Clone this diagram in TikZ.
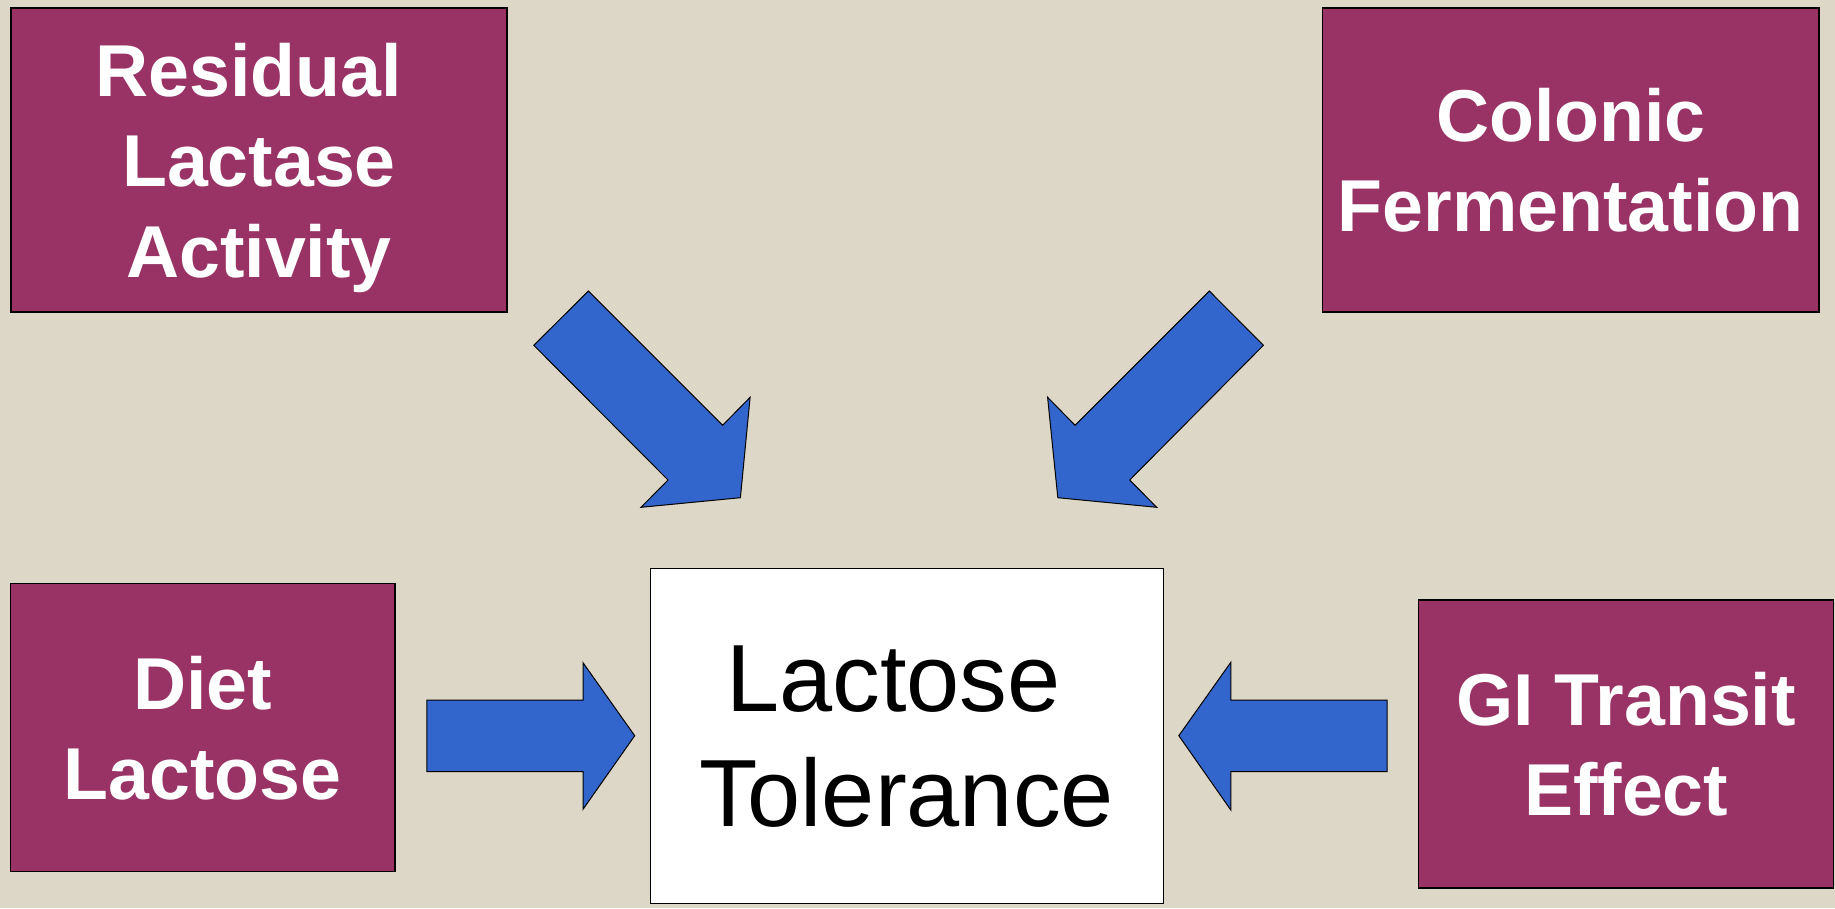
\documentclass[tikz,border=0pt]{standalone}
\usepackage{fontspec}
\setmainfont{Liberation Sans}
\definecolor{bg}{RGB}{221,215,199}
\definecolor{plum}{RGB}{153,51,102}
\definecolor{arrowblue}{RGB}{51,102,204}
\tikzset{
  factor/.style={draw=black, line width=1.5pt, fill=plum, text=white,
    font=\fontsize{73.5}{90.5}\selectfont\bfseries, align=center,
    inner sep=0pt, text depth=0pt},
  result/.style={draw=black, line width=1.5pt, fill=white, text=black,
    font=\fontsize{95.5}{115}\selectfont, align=center,
    inner sep=0pt, text depth=0pt},
  blockarrow/.style={draw=black, line width=1pt, fill=arrowblue, line join=miter}
}
\begin{document}
\begin{tikzpicture}[x=1pt, y=-1pt]
\path[use as bounding box, fill=bg] (0,0) rectangle (1835,908);

\node[factor, minimum width=496pt, minimum height=304pt] (rla) at (259,160) {Residual\kern0.278em\\Lactase\\Activity};
\node[factor, minimum width=496.5pt, minimum height=304pt] (cf) at (1570.75,160) {Colonic\\Fermentation};
\node[factor, minimum width=384.5pt, minimum height=288pt] (dl) at (202.75,727.7) {Diet\\Lactose};
\node[factor, minimum width=415pt, minimum height=288pt] (gi) at (1626.2,744) {GI Transit\\Effect};
\node[result, minimum width=513pt, minimum height=335pt] (lt) at (906.85,735.8) {Lactose\kern0.278em\\Tolerance};

% diagonal arrow from Residual Lactase Activity
\draw[blockarrow] (588.4,291) -- (533.8,345.3) -- (668,480) -- (641,507.3)
  -- (740.4,497.7) -- (750.1,397.3) -- (722.6,425.3) -- cycle;
% diagonal arrow from Colonic Fermentation
\draw[blockarrow] (1209.3,291) -- (1263.4,345.3) -- (1129.7,480) -- (1156.7,507.3)
  -- (1057.8,497.7) -- (1047.6,397.3) -- (1075.1,425.3) -- cycle;
% arrow from Diet Lactose
\draw[blockarrow] (426.8,700) -- (583,700) -- (583,662.7) -- (634.7,735.7)
  -- (583,809.3) -- (583,771.7) -- (426.8,771.7) -- cycle;
% arrow from GI Transit Effect
\draw[blockarrow] (1387.2,700) -- (1230.8,700) -- (1230.8,662.3) -- (1178.8,735.7)
  -- (1230.8,810) -- (1230.8,771.7) -- (1387.2,771.7) -- cycle;
\end{tikzpicture}
\end{document}
